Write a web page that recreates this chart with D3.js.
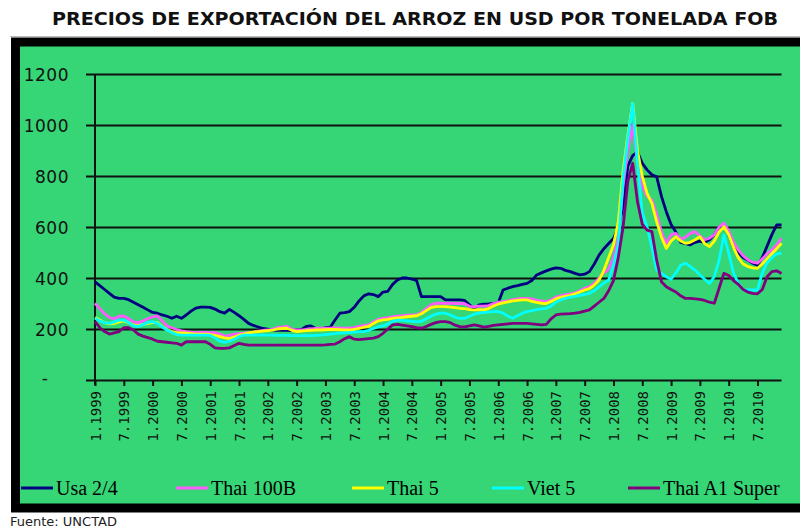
<!DOCTYPE html>
<html>
<head>
<meta charset="utf-8">
<script src="https://cdn.jsdelivr.net/npm/d3@7/dist/d3.min.js"></script>
<style>
  body { margin: 0; background: #fff; }
</style>
</head>
<body>
<div id="chart"></div>
<script>
// tick labels along the x axis, one every 6 months
const tickLabels = ["1.1999", "7.1999", "1.2000", "7.2000", "1.2001", "7.2001",
    "1.2002", "7.2002", "1.2003", "7.2003", "1.2004", "7.2004",
    "1.2005", "7.2005", "1.2006", "7.2006", "1.2007", "7.2007",
    "1.2008", "7.2008", "1.2009", "7.2009", "1.2010", "7.2010"];

const yTicks = [0, 200, 400, 600, 800, 1000, 1200];

// monthly prices, Jan 1999 .. Dec 2010 (one row per year)
const usa24 = [
    385, 370, 355, 340, 325, 320, 320, 315, 305, 295, 285, 275,
    265, 262, 255, 250, 242, 250, 242, 255, 270, 282, 286, 286,
    285, 278, 268, 262, 277, 265, 252, 238, 222, 214, 208, 202,
    199, 196, 195, 196, 195, 194, 196, 198, 210, 212, 202, 200,
    205, 207, 235, 262, 264, 268, 285, 310, 330, 338, 335, 327,
    345, 348, 375, 392, 400, 400, 396, 390, 327, 327, 327, 327,
    327, 314, 314, 314, 314, 312, 295, 280, 295, 297, 298, 300,
    302, 353, 360, 366, 370, 375, 379, 390, 412, 420, 428, 435,
    440, 438, 430, 425, 418, 412, 415, 425, 455, 490, 515, 535,
    555, 600, 680, 840, 880, 895, 850, 824, 805, 797, 720, 660,
    610, 580, 540, 535, 530, 540, 545, 540, 550, 570, 600, 605,
    570, 520, 500, 480, 470, 458, 450, 480, 525, 570, 608, 608];

const thai100B = [
    301, 280, 260, 245, 240, 250, 251, 240, 228, 225, 232, 240,
    248, 251, 232, 212, 205, 198, 193, 190, 188, 187, 187, 187,
    186, 186, 180, 172, 175, 180, 182, 184, 186, 188, 192, 195,
    196, 200, 205, 208, 210, 200, 196, 196, 198, 200, 202, 203,
    203, 203, 205, 203, 203, 203, 205, 210, 214, 216, 228, 238,
    242, 245, 248, 250, 252, 254, 255, 256, 265, 280, 295, 301,
    301, 301, 301, 300, 300, 299, 289, 288, 290, 290, 292, 300,
    305, 307, 310, 315, 318, 320, 320, 318, 312, 310, 307, 315,
    325, 330, 335, 338, 342, 350, 360, 365, 380, 400, 420, 435,
    480, 560, 760, 900, 1000, 850, 760, 720, 706, 650, 580, 536,
    570, 575, 552, 560, 575, 582, 565, 550, 556, 570, 600, 615,
    585, 540, 510, 488, 472, 462, 458, 475, 495, 510, 530, 556];

const thai5 = [
    245, 235, 225, 220, 222, 228, 232, 225, 215, 212, 218, 222,
    225, 225, 210, 198, 190, 185, 185, 184, 182, 180, 180, 180,
    178, 175, 170, 165, 162, 168, 175, 180, 185, 188, 190, 192,
    194, 196, 200, 202, 203, 195, 190, 192, 194, 195, 196, 196,
    197, 198, 198, 197, 196, 196, 198, 202, 207, 210, 222, 232,
    236, 238, 242, 244, 246, 248, 250, 252, 260, 272, 284, 288,
    288, 288, 286, 284, 281, 280, 276, 275, 276, 275, 280, 290,
    298, 302, 306, 310, 312, 314, 314, 308, 304, 301, 300, 308,
    318, 324, 328, 332, 338, 345, 353, 358, 372, 392, 430, 480,
    530, 620, 820, 960, 1085, 900, 800, 732, 693, 620, 560, 516,
    545, 562, 545, 536, 540, 550, 562, 535, 523, 545, 580, 601,
    570, 520, 480, 455, 445, 440, 438, 455, 475, 495, 515, 536];

const viet5 = [
    242, 232, 225, 222, 228, 235, 235, 225, 212, 209, 218, 226,
    229, 222, 208, 196, 186, 178, 176, 176, 176, 176, 176, 176,
    175, 165, 152, 148, 152, 160, 170, 176, 176, 176, 176, 176,
    176, 176, 175, 175, 175, 174, 174, 174, 174, 174, 175, 176,
    178, 180, 182, 184, 185, 186, 188, 190, 190, 195, 202, 208,
    212, 220, 230, 235, 234, 232, 230, 229, 230, 240, 250, 258,
    262, 262, 255, 246, 242, 242, 250, 258, 262, 265, 266, 268,
    268, 262, 250, 242, 252, 262, 268, 272, 276, 279, 281, 290,
    305, 314, 320, 325, 328, 332, 336, 340, 350, 365, 380, 392,
    450, 530, 790, 950, 1085, 850, 654, 601, 520, 431, 418, 405,
    395, 420, 450, 458, 445, 431, 412, 395, 379, 405, 470, 569,
    497, 420, 379, 353, 353, 353, 353, 420, 460, 480, 495, 497];

const thaiA1Super = [
    229, 205, 190, 180, 185, 190, 205, 205, 196, 180, 172, 166,
    160, 152, 150, 148, 146, 144, 137, 150, 150, 150, 150, 150,
    140, 126, 124, 124, 126, 135, 144, 140, 137, 137, 137, 137,
    137, 137, 137, 137, 137, 137, 137, 137, 137, 137, 137, 137,
    138, 140, 141, 150, 162, 170, 160, 158, 160, 162, 164, 170,
    183, 200, 216, 218, 215, 212, 209, 205, 203, 210, 218, 225,
    229, 229, 225, 215, 209, 208, 212, 216, 212, 207, 210, 214,
    216, 218, 220, 222, 222, 222, 222, 220, 218, 216, 218, 240,
    255, 258, 259, 260, 262, 265, 270, 275, 290, 305, 320, 350,
    390, 480, 600, 780, 850, 700, 610, 588, 582, 470, 385, 366,
    355, 345, 330, 320, 320, 318, 316, 312, 305, 301, 360, 418,
    410, 390, 375, 355, 345, 340, 338, 355, 405, 425, 428, 418];

const seriesNames = ["Usa 2/4", "Thai 100B", "Thai 5", "Viet 5", "Thai A1 Super"];
const seriesValues = [usa24, thai100B, thai5, viet5, thaiA1Super];
const seriesColors = ["#000080", "#ff5cff", "#ffff00", "#00ffff", "#800080"];

const width = 800, height = 530;
const plot = { left: 95, right: 781.5, top: 74, bottom: 380 };

const svg = d3.select("#chart").append("svg")
    .attr("width", width)
    .attr("height", height);

// Title
svg.append("text")
    .attr("x", 52)
    .attr("y", 25)
    .attr("textLength", 726)
    .attr("lengthAdjust", "spacingAndGlyphs")
    .style("font-family", "'DejaVu Sans Condensed', 'DejaVu Sans', sans-serif")
    .style("font-weight", "bold")
    .style("font-size", "17px")
    .style("fill", "#111")
    .text("PRECIOS DE EXPORTACIÓN DEL ARROZ EN USD POR TONELADA FOB");

// Green chart area with thick black frame
svg.append("line")
    .attr("x1", 10).attr("x2", 800)
    .attr("y1", 36.5).attr("y2", 36.5)
    .attr("stroke", "#bbb");
svg.append("rect")
    .attr("x", 15.5)
    .attr("y", 42)
    .attr("width", 800)
    .attr("height", 466)
    .attr("fill", "#36d576")
    .attr("stroke", "#000")
    .attr("stroke-width", 9);

const x = d3.scaleLinear()
    .domain([0, usa24.length - 1])
    .range([plot.left, plot.right]);

const y = d3.scaleLinear()
    .domain([0, 1200])
    .range([plot.bottom, plot.top]);

// Y grid lines + labels
const yAxis = svg.append("g")
    .attr("transform", "translate(86,0)")
    .call(d3.axisLeft(y)
        .tickValues(yTicks)
        .tickSize(-(plot.right - 86))
        .tickPadding(17)
        .tickFormat(d => d === 0 ? "-" : d));
yAxis.select(".domain").remove();
yAxis.selectAll("line")
    .attr("stroke", "#111")
    .attr("stroke-width", 2);
yAxis.selectAll("text")
    .attr("dy", "0.4em")
    .style("font-family", "'DejaVu Sans', sans-serif")
    .style("font-size", "17px")
    .style("letter-spacing", "0.5px")
    .style("fill", "#111");
yAxis.selectAll(".tick")
    .filter(d => d === 0)
    .select("text")
    .attr("x", -41)
    .attr("text-anchor", "middle")
    .attr("dy", "0.2em");

// Y axis line
svg.append("line")
    .attr("x1", plot.left).attr("x2", plot.left)
    .attr("y1", plot.top).attr("y2", plot.bottom + 5)
    .attr("stroke", "#111")
    .attr("stroke-width", 2);

// X axis ticks + rotated labels
const xAxis = svg.append("g")
    .attr("transform", `translate(0,${plot.bottom})`)
    .call(d3.axisBottom(x)
        .tickValues(tickLabels.map((d, i) => i * 6))
        .tickSize(6)
        .tickFormat((d, i) => tickLabels[i]));
xAxis.select(".domain").remove();
xAxis.selectAll("line")
    .attr("stroke", "#111")
    .attr("stroke-width", 2);
xAxis.selectAll("text")
    .attr("transform", "rotate(-90)")
    .attr("text-anchor", "end")
    .attr("x", -11)
    .attr("y", 0)
    .attr("dy", "0.36em")
    .style("font-family", "'DejaVu Sans Mono', monospace")
    .style("font-size", "14px")
    .style("fill", "#111");

// Series lines
const line = d3.line()
    .x((d, i) => x(i))
    .y(d => y(d));

seriesValues.forEach((values, k) => {
    svg.append("path")
        .datum(values)
        .attr("fill", "none")
        .attr("stroke", seriesColors[k])
        .attr("stroke-width", 2.8)
        .attr("stroke-linejoin", "round")
        .attr("d", line);
});

// Legend
const legendX = [21, 176, 352, 492, 628];
const legend = svg.append("g").attr("transform", "translate(0,488)");
seriesNames.forEach((name, k) => {
    legend.append("line")
        .attr("x1", legendX[k]).attr("x2", legendX[k] + 32)
        .attr("y1", 0).attr("y2", 0)
        .attr("stroke", seriesColors[k])
        .attr("stroke-width", 3);
    legend.append("text")
        .attr("x", legendX[k] + 35)
        .attr("y", 7)
        .style("font-family", "'Liberation Serif', serif")
        .style("font-size", "20px")
        .style("fill", "#000")
        .text(name);
});

// Source note
svg.append("text")
    .attr("x", 10)
    .attr("y", 526)
    .style("font-family", "'DejaVu Sans', sans-serif")
    .style("font-size", "13px")
    .style("fill", "#222")
    .text("Fuente: UNCTAD");
</script>
</body>
</html>
